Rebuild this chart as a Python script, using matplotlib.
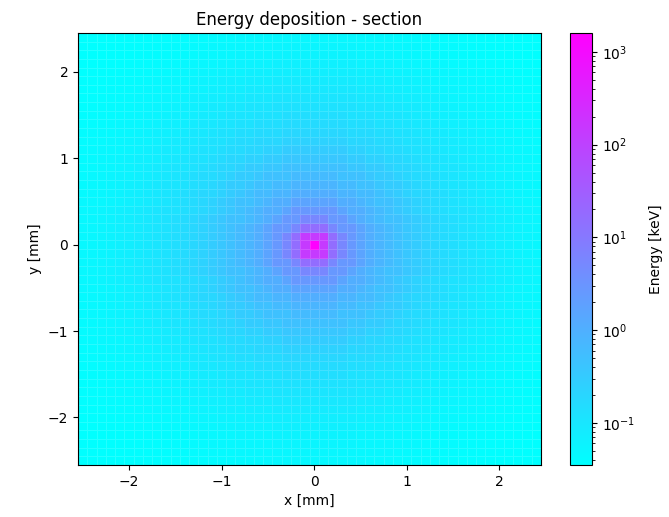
import numpy as np
import matplotlib
matplotlib.use("Agg")
import matplotlib.pyplot as plt
from matplotlib.colors import LogNorm

# Bin layout of the scoring plane (mm)
x_edges = np.round(np.arange(-2.55, 2.451, 0.1), 3)
y_edges = np.round(np.arange(-2.55, 2.451, 0.1), 3)

# Deposited energy [keV] per ring, indexed by distance from the central bin (in bins)
ring_energy = [1600, 140, 16, 5.5, 2.7, 1.6, 1.05, 0.8, 0.62, 0.48,
               0.38, 0.30, 0.24, 0.19, 0.16, 0.14, 0.12, 0.105, 0.093, 0.082,
               0.073, 0.066, 0.060, 0.055, 0.051, 0.048, 0.045, 0.043, 0.041, 0.039,
               0.038, 0.037, 0.036, 0.036, 0.035, 0.035, 0.035]

xc = 0.5 * (x_edges[:-1] + x_edges[1:])
yc = 0.5 * (y_edges[:-1] + y_edges[1:])
ix = np.rint(xc / 0.1).astype(int)
iy = np.rint(yc / 0.1).astype(int)
ring = np.rint(np.hypot(ix[None, :], iy[:, None])).astype(int)
energy = np.asarray(ring_energy)[ring]

fig = plt.figure(figsize=(6.69, 5.17), dpi=100)
W, H = 669, 517
ax = fig.add_axes([78 / W, 1 - 465 / H, (541 - 78) / W, (465 - 33) / H])
cax = fig.add_axes([570 / W, 1 - 465 / H, (592 - 570) / W, (465 - 33) / H])

mesh = ax.pcolormesh(x_edges, y_edges, energy, cmap="cool",
                     norm=LogNorm(vmin=0.035, vmax=1600),
                     edgecolors=(1, 1, 1, 0.14), linewidth=0.4)
ax.set_xlim(x_edges[0], x_edges[-1])
ax.set_ylim(y_edges[0], y_edges[-1])
ax.set_xticks([-2, -1, 0, 1, 2])
ax.set_yticks([-2, -1, 0, 1, 2])
ax.set_xlabel("x [mm]")
ax.set_ylabel("y [mm]")
ax.set_title("Energy deposition - section")

cb = fig.colorbar(mesh, cax=cax)
cb.set_label("Energy [keV]", labelpad=10)

fig.savefig("out.png", dpi=100)
